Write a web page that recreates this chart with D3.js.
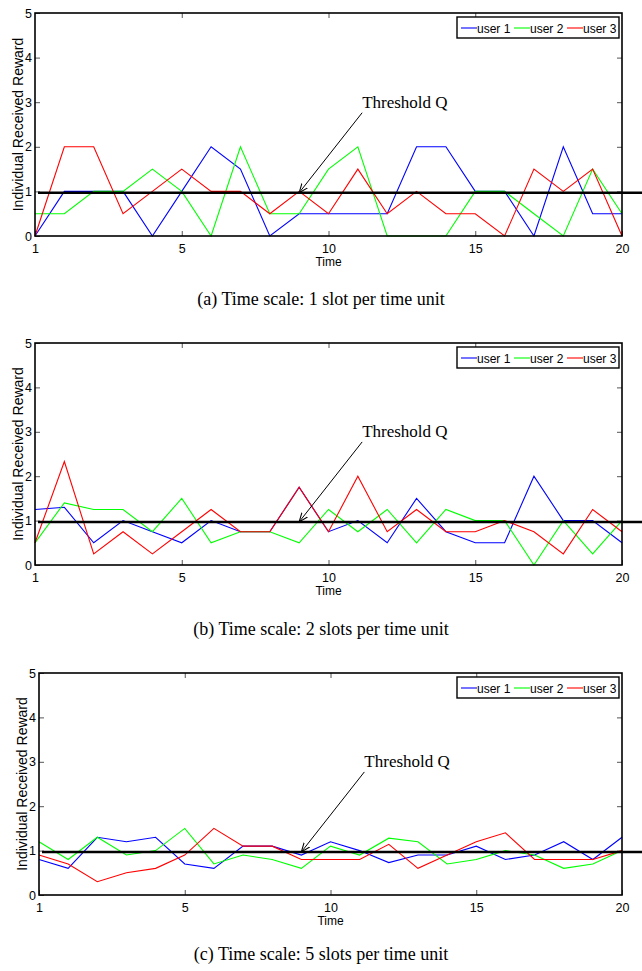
<!DOCTYPE html>
<html>
<head>
<meta charset="utf-8">
<script src="https://d3js.org/d3.v7.min.js"></script>
<style>
  body { margin: 0; background: #fff; }
  .tick text, .lbl { font-family: "Liberation Sans", Arial, sans-serif; }
  .serif { font-family: "Liberation Serif", "Times New Roman", serif; }
</style>
</head>
<body>
<script>
// time index 0..20 (first tick labelled "1", like the MATLAB figure)
var timeIdx = d3.range(0, 21);
var xTickVals = [0, 5, 10, 15, 20];
var xTickLabels = ["1", "5", "10", "15", "20"];
var yTickVals = [0, 1, 2, 3, 4, 5];
var userNames = ["user 1", "user 2", "user 3"];
var userColors = ["#0000ff", "#00ff00", "#ff0000"];
var thresholdQ = 0.97;

// (a) 1 slot per time unit
var a_user1 = [0, 1, 1, 1, 0, 1, 2, 1.5, 0, 0.5, 0.5, 0.5, 0.5, 2, 2, 1, 1, 0, 2, 0.5, 0.5];
var a_user2 = [0.5, 0.5, 1, 1, 1.5, 1, 0, 2, 0.5, 0.5, 1.5, 2, 0, 0, 0, 1, 1, 0.5, 0, 1.5, 0.5];
var a_user3 = [0, 2, 2, 0.5, 1, 1.5, 1, 1, 0.5, 1, 0.5, 1.5, 0.5, 1, 0.5, 0.5, 0, 1.5, 1, 1.5, 0];

// (b) 2 slots per time unit
var b_user1 = [1.25, 1.3, 0.5, 1, 0.75, 0.5, 1, 0.75, 0.75, 1.75, 0.75, 1, 0.5, 1.5, 0.75, 0.5, 0.5, 2, 1, 1, 0.5];
var b_user2 = [0.5, 1.4, 1.25, 1.25, 0.75, 1.5, 0.5, 0.75, 0.75, 0.5, 1.25, 0.75, 1.25, 0.5, 1.25, 1, 1, 0, 1, 0.25, 1];
var b_user3 = [0.5, 2.33, 0.25, 0.75, 0.25, 0.75, 1.25, 0.75, 0.75, 1.75, 0.75, 2, 0.75, 1.25, 0.75, 0.75, 1, 0.75, 0.25, 1.25, 0.75];

// (c) 5 slots per time unit
var c_user1 = [0.8, 0.6, 1.3, 1.2, 1.3, 0.7, 0.6, 1.1, 1.1, 0.9, 1.2, 1.0, 0.73, 0.9, 0.9, 1.1, 0.8, 0.9, 1.2, 0.8, 1.3];
var c_user2 = [1.2, 0.8, 1.3, 0.9, 1.0, 1.5, 0.7, 0.9, 0.8, 0.6, 1.1, 0.9, 1.28, 1.2, 0.7, 0.8, 1.0, 0.9, 0.6, 0.7, 1.0];
var c_user3 = [0.9, 0.7, 0.3, 0.5, 0.6, 0.9, 1.5, 1.1, 1.1, 0.8, 0.8, 0.8, 1.14, 0.6, 0.9, 1.2, 1.4, 0.8, 0.8, 0.8, 1.0];

var captions = [
  "(a) Time scale: 1 slot per time unit",
  "(b) Time scale: 2 slots per time unit",
  "(c) Time scale: 5 slots per time unit"
];

var width = 642, height = 971;

var svg = d3.select("body").append("svg")
  .attr("width", width)
  .attr("height", height);

svg.append("defs").append("marker")
  .attr("id", "arrow")
  .attr("viewBox", "0 0 10 10")
  .attr("refX", 10).attr("refY", 5)
  .attr("markerWidth", 9).attr("markerHeight", 9)
  .attr("orient", "auto")
  .attr("markerUnits", "userSpaceOnUse")
  .append("path")
  .attr("d", "M0,1 L10,5 L0,9")
  .attr("fill", "none")
  .attr("stroke", "#000")
  .attr("stroke-width", 1.2);

// panel boxes
var panels = [
  { left: 35, right: 622, top: 13, bottom: 236, capY: 305, series: [a_user1, a_user2, a_user3] },
  { left: 35, right: 622, top: 343, bottom: 565, capY: 635, series: [b_user1, b_user2, b_user3] },
  { left: 39, right: 622, top: 673, bottom: 895, capY: 960, series: [c_user1, c_user2, c_user3] }
];

panels.forEach(function(p, pi) {
  var x = d3.scaleLinear().domain([0, 20]).range([p.left, p.right]);
  var y = d3.scaleLinear().domain([0, 5]).range([p.bottom, p.top]);
  var g = svg.append("g");

  // bottom axis (labels) and top mirror ticks
  var xAxis = g.append("g")
    .attr("transform", "translate(0," + p.bottom + ")")
    .call(d3.axisBottom(x).tickValues(xTickVals)
      .tickFormat(function(d, i) { return xTickLabels[i]; })
      .tickSizeInner(-5).tickSizeOuter(0).tickPadding(8));
  xAxis.select(".domain").remove();
  xAxis.selectAll("text").attr("font-size", 12.5).attr("fill", "#000");
  xAxis.selectAll("line").attr("stroke", "#555");

  g.append("g")
    .attr("transform", "translate(0," + p.top + ")")
    .call(d3.axisTop(x).tickValues(xTickVals.slice(1, 4)).tickFormat("")
      .tickSizeInner(-5).tickSizeOuter(0))
    .call(function(s) { s.select(".domain").remove(); s.selectAll("line").attr("stroke", "#555"); });

  var yAxis = g.append("g")
    .attr("transform", "translate(" + p.left + ",0)")
    .call(d3.axisLeft(y).tickValues(yTickVals).tickFormat(d3.format("d"))
      .tickSizeInner(-5).tickSizeOuter(0).tickPadding(3));
  yAxis.select(".domain").remove();
  yAxis.selectAll("text").attr("font-size", 12.5).attr("fill", "#000");
  yAxis.selectAll("line").attr("stroke", "#555");

  g.append("g")
    .attr("transform", "translate(" + p.right + ",0)")
    .call(d3.axisRight(y).tickValues([1, 2, 3, 4]).tickFormat("")
      .tickSizeInner(-5).tickSizeOuter(0))
    .call(function(s) { s.select(".domain").remove(); s.selectAll("line").attr("stroke", "#555"); });

  // data lines
  var line = d3.line()
    .x(function(d, i) { return x(timeIdx[i]); })
    .y(function(d) { return y(d); });

  p.series.forEach(function(s, si) {
    g.append("path")
      .datum(s)
      .attr("fill", "none")
      .attr("stroke", userColors[si])
      .attr("stroke-width", 1.1)
      .attr("d", line);
  });

  // threshold line
  g.append("line")
    .attr("x1", p.left + 3).attr("x2", width)
    .attr("y1", y(thresholdQ)).attr("y2", y(thresholdQ))
    .attr("stroke", "#000").attr("stroke-width", 2.6);

  // box
  g.append("rect")
    .attr("x", p.left).attr("y", p.top)
    .attr("width", p.right - p.left).attr("height", p.bottom - p.top)
    .attr("fill", "none").attr("stroke", "#000").attr("stroke-width", 1.6);

  // axis labels
  g.append("text").attr("class", "lbl")
    .attr("x", (x(0) + x(20)) / 2).attr("y", p.bottom + 30)
    .attr("text-anchor", "middle").attr("font-size", 12)
    .text("Time");

  g.append("text").attr("class", "lbl")
    .attr("transform", "translate(" + (p.left - 12) + "," + ((p.top + p.bottom) / 2) + ") rotate(-90)")
    .attr("text-anchor", "middle").attr("font-size", 14)
    .text("Individual Received Reward");

  // legend
  var lg = g.append("g").attr("transform", "translate(" + (p.right - 165) + "," + (p.top + 4) + ")");
  lg.append("rect")
    .attr("width", 162).attr("height", 21)
    .attr("fill", "#fff").attr("stroke", "#000").attr("stroke-width", 1.4);
  var offs = [4, 57, 110];
  userNames.forEach(function(n, i) {
    lg.append("line")
      .attr("x1", offs[i]).attr("x2", offs[i] + 16)
      .attr("y1", 11).attr("y2", 11)
      .attr("stroke", userColors[i]).attr("stroke-width", 1.1);
    lg.append("text").attr("class", "lbl")
      .attr("x", offs[i] + 16).attr("y", 15.5)
      .attr("font-size", 12)
      .text(n);
  });

  // threshold annotation
  var tipX = x(9), tipY = y(thresholdQ);
  g.append("line")
    .attr("x1", tipX + 63).attr("y1", tipY - 80)
    .attr("x2", tipX).attr("y2", tipY)
    .attr("stroke", "#000").attr("stroke-width", 1)
    .attr("marker-end", "url(#arrow)");
  g.append("text").attr("class", "serif")
    .attr("x", tipX + 63).attr("y", tipY - 85)
    .attr("font-size", 17)
    .text("Threshold Q");

  // caption
  svg.append("text").attr("class", "serif")
    .attr("x", 321).attr("y", p.capY)
    .attr("text-anchor", "middle").attr("font-size", 18)
    .text(captions[pi]);
});
</script>
</body>
</html>
